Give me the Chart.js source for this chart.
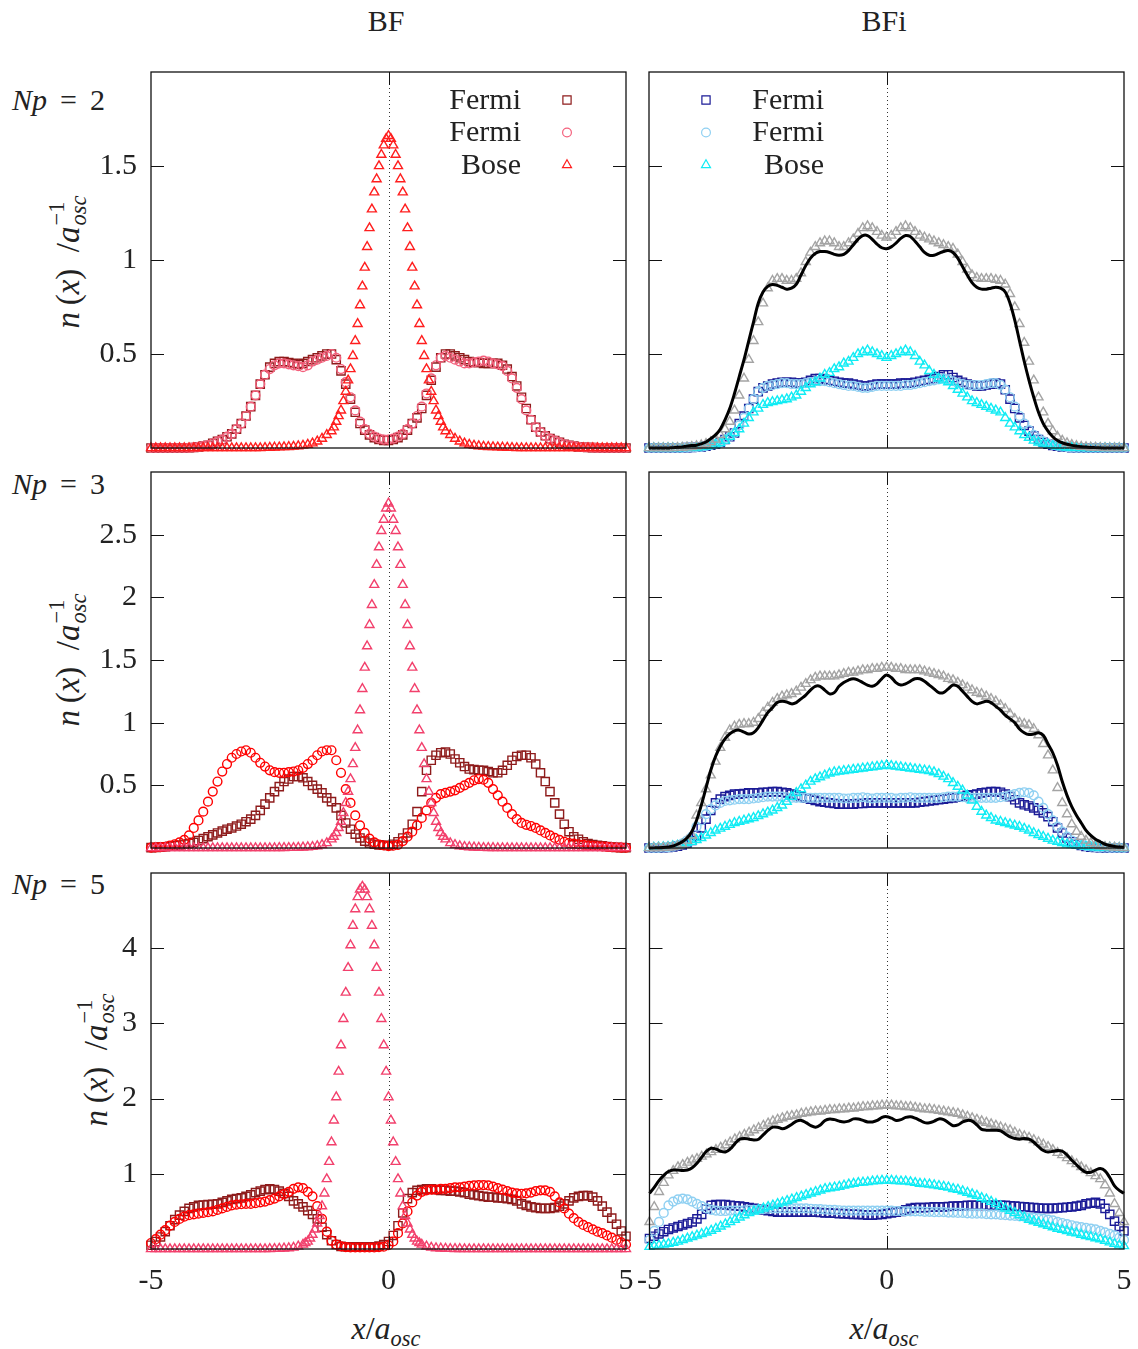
<!DOCTYPE html>
<html>
<head>
<meta charset="utf-8">
<script src="https://cdn.jsdelivr.net/npm/chart.js@4.4.1/dist/chart.umd.min.js"></script>
<style>
  body { margin: 0; background: #fff; width: 1138px; height: 1349px; position: relative; overflow: hidden;
         font-family: "Liberation Serif", serif; color: #222; }
  canvas { position: absolute; }
  .lab { position: absolute; font-size: 30px; white-space: nowrap; line-height: 1; transform: translate(-50%, -50%); }
  .np { position: absolute; left: 12px; font-size: 30px; white-space: nowrap; line-height: 1; transform: translateY(-50%); }
  .np .eq { margin: 0 13px; }
  .ylab { position: absolute; font-size: 33px; white-space: nowrap; line-height: 1; transform: translate(-50%, -50%) rotate(-90deg); }
  .ss { display: inline-block; vertical-align: -0.3em; font-size: 0.68em; line-height: 1; margin-left: 1px; }
  .ss span { display: block; }
  .xl { font-size: 32px; }
  sub { font-size: 0.7em; vertical-align: -0.3em; }
</style>
</head>
<body>

<div class="lab" style="left:386px;top:21px">BF</div>
<div class="lab" style="left:884px;top:21px">BFi</div>

<div class="np" style="top:100px"><i>Np</i><span class="eq">=</span>2</div>
<div class="np" style="top:484px"><i>Np</i><span class="eq">=</span>3</div>
<div class="np" style="top:884px"><i>Np</i><span class="eq">=</span>5</div>

<div class="ylab" style="left:68px;top:262px"><i>n</i>&#8201;(<i>x</i>)&#8194;/<i>a</i><span class="ss"><span>&minus;1</span><span><i>osc</i></span></span></div>
<div class="ylab" style="left:68px;top:660px"><i>n</i>&#8201;(<i>x</i>)&#8194;/<i>a</i><span class="ss"><span>&minus;1</span><span><i>osc</i></span></span></div>
<div class="ylab" style="left:96px;top:1060px"><i>n</i>&#8201;(<i>x</i>)&#8194;/<i>a</i><span class="ss"><span>&minus;1</span><span><i>osc</i></span></span></div>

<div class="lab xl" style="left:386px;top:1331px"><i>x</i>/<i>a</i><sub><i>osc</i></sub></div>
<div class="lab xl" style="left:884px;top:1331px"><i>x</i>/<i>a</i><sub><i>osc</i></sub></div>

<canvas id="p1" width="577" height="440" style="left:71px;top:40px"></canvas>
<canvas id="p2" width="523" height="440" style="left:623px;top:40px"></canvas>
<canvas id="p3" width="577" height="440" style="left:71px;top:440px"></canvas>
<canvas id="p4" width="523" height="440" style="left:623px;top:440px"></canvas>
<canvas id="p5" width="577" height="458" style="left:71px;top:841px"></canvas>
<canvas id="p6" width="523" height="458" style="left:623px;top:841px"></canvas>

<script>
'use strict';

// all series are sampled on x = -5 ... 5, step 0.1 (101 values)
// the narrow Bose peaks of the BF column also carry the half-step points (…Mid)

// ---- Np = 2 ----
var bf2FermiSq = [
  0,0,0,0,0,0,0,0,0.001,0.003,
  0.006,0.01,0.015,0.025,0.035,0.045,0.06,0.075,0.10,0.13,
  0.17,0.22,0.28,0.34,0.39,0.43,0.45,0.46,0.46,0.455,
  0.45,0.445,0.45,0.46,0.47,0.48,0.49,0.50,0.50,0.47,
  0.41,0.34,0.26,0.19,0.13,0.095,0.07,0.055,0.045,0.04,
  0.04,0.045,0.055,0.07,0.095,0.13,0.16,0.21,0.28,0.36,
  0.43,0.48,0.50,0.50,0.49,0.48,0.47,0.46,0.455,0.455,
  0.45,0.45,0.45,0.45,0.44,0.42,0.38,0.33,0.27,0.21,
  0.15,0.11,0.085,0.065,0.05,0.04,0.03,0.02,0.014,0.01,
  0.006,0.004,0.003,0.002,0.001,0,0,0,0,0,
  0];
var bf2FermiCi = [
  0,0,0,0,0,0,0,0,0.001,0.003,
  0.006,0.01,0.015,0.025,0.035,0.045,0.06,0.075,0.10,0.13,
  0.17,0.22,0.28,0.34,0.39,0.42,0.44,0.45,0.45,0.445,
  0.44,0.435,0.43,0.44,0.46,0.47,0.48,0.49,0.50,0.48,
  0.42,0.35,0.27,0.20,0.14,0.10,0.075,0.06,0.05,0.045,
  0.045,0.05,0.06,0.075,0.10,0.13,0.17,0.22,0.29,0.37,
  0.44,0.48,0.49,0.48,0.47,0.46,0.45,0.45,0.455,0.46,
  0.465,0.46,0.45,0.445,0.435,0.41,0.37,0.32,0.26,0.20,
  0.15,0.11,0.085,0.065,0.05,0.04,0.03,0.02,0.014,0.01,
  0.006,0.004,0.003,0.002,0.001,0,0,0,0,0,
  0];
var bf2Bose = [
  0,0,0,0,0,0,0,0,0,0,
  0,0,0,0,0,0,0,0,0,0,
  0,0,0,0,0.001,0.002,0.003,0.004,0.005,0.006,
  0.008,0.01,0.013,0.018,0.025,0.035,0.05,0.07,0.09,0.14,
  0.20,0.30,0.42,0.57,0.76,0.96,1.17,1.36,1.50,1.61,
  1.66,1.61,1.50,1.36,1.17,0.96,0.76,0.57,0.42,0.30,
  0.20,0.14,0.09,0.07,0.05,0.035,0.025,0.018,0.013,0.01,
  0.008,0.006,0.005,0.004,0.003,0.002,0.001,0,0,0,
  0,0,0,0,0,0,0,0,0,0,
  0,0,0,0,0,0,0,0,0,0,
  0];
var bf2BoseMidStart = -1.15;
var bf2BoseMid = [0.11,0.17,0.25,0.36,0.49,0.66,0.86,1.07,1.27,1.43,1.56,1.645,
                  1.645,1.56,1.43,1.27,1.07,0.86,0.66,0.49,0.36,0.25,0.17,0.11];

var bfi2FermiSq = [
  0,0,0,0,0,0,0,0.001,0.002,0.003,
  0.004,0.006,0.01,0.015,0.022,0.03,0.045,0.06,0.08,0.13,
  0.17,0.21,0.26,0.30,0.32,0.33,0.34,0.345,0.35,0.35,
  0.35,0.345,0.345,0.35,0.36,0.37,0.37,0.365,0.36,0.355,
  0.35,0.345,0.345,0.34,0.335,0.33,0.33,0.335,0.34,0.34,
  0.34,0.34,0.34,0.345,0.345,0.345,0.35,0.355,0.36,0.365,
  0.37,0.38,0.39,0.39,0.375,0.36,0.35,0.34,0.335,0.33,
  0.33,0.335,0.34,0.345,0.34,0.31,0.26,0.21,0.16,0.12,
  0.09,0.065,0.045,0.03,0.02,0.014,0.01,0.006,0.004,0.002,
  0.001,0,0,0,0,0,0,0,0,0,
  0];
var bfi2FermiCi = [
  0,0,0,0,0,0,0,0.001,0.002,0.003,
  0.004,0.006,0.01,0.015,0.022,0.03,0.045,0.06,0.08,0.12,
  0.16,0.21,0.26,0.30,0.32,0.33,0.335,0.34,0.345,0.345,
  0.34,0.34,0.34,0.345,0.35,0.355,0.355,0.355,0.35,0.345,
  0.34,0.335,0.33,0.33,0.325,0.32,0.32,0.325,0.33,0.33,
  0.33,0.33,0.33,0.33,0.335,0.335,0.34,0.345,0.35,0.355,
  0.36,0.365,0.37,0.365,0.355,0.345,0.34,0.335,0.335,0.335,
  0.335,0.34,0.345,0.345,0.335,0.31,0.27,0.22,0.17,0.13,
  0.095,0.07,0.05,0.035,0.024,0.016,0.011,0.007,0.004,0.002,
  0.001,0,0,0,0,0,0,0,0,0,
  0];
var bfi2Bose = [
  0,0,0,0,0,0,0,0,0.001,0.002,
  0.003,0.005,0.008,0.012,0.018,0.027,0.04,0.06,0.08,0.10,
  0.13,0.16,0.19,0.21,0.23,0.24,0.245,0.25,0.255,0.26,
  0.27,0.28,0.30,0.32,0.34,0.35,0.37,0.39,0.40,0.42,
  0.43,0.45,0.46,0.48,0.50,0.51,0.52,0.51,0.50,0.49,
  0.48,0.49,0.50,0.51,0.52,0.51,0.49,0.46,0.44,0.41,
  0.39,0.37,0.36,0.35,0.33,0.31,0.29,0.27,0.25,0.24,
  0.23,0.22,0.21,0.20,0.19,0.16,0.13,0.11,0.09,0.07,
  0.055,0.04,0.03,0.024,0.018,0.012,0.008,0.005,0.003,0.002,
  0.001,0,0,0,0,0,0,0,0,0,
  0];
var bfi2TotalPts = [
  0,0,0,0,0,0,0.001,0.002,0.004,0.006,
  0.01,0.015,0.022,0.032,0.045,0.07,0.10,0.14,0.20,0.28,
  0.37,0.47,0.57,0.67,0.77,0.85,0.89,0.90,0.90,0.89,
  0.89,0.90,0.93,0.99,1.04,1.07,1.09,1.10,1.10,1.09,
  1.07,1.07,1.09,1.11,1.14,1.17,1.18,1.17,1.15,1.13,
  1.12,1.13,1.15,1.17,1.18,1.17,1.15,1.13,1.12,1.11,
  1.10,1.09,1.08,1.07,1.06,1.03,0.99,0.95,0.92,0.905,
  0.90,0.90,0.90,0.895,0.89,0.87,0.82,0.75,0.66,0.56,
  0.46,0.36,0.27,0.19,0.13,0.09,0.06,0.04,0.026,0.017,
  0.011,0.007,0.005,0.003,0.002,0.001,0,0,0,0,
  0];
var bfi2TotalLine = [
  0,0,0,0,0,0.002,0.004,0.006,0.01,0.013,
  0.015,0.022,0.032,0.05,0.07,0.10,0.15,0.21,0.29,0.38,
  0.47,0.57,0.67,0.77,0.83,0.86,0.87,0.865,0.855,0.845,
  0.85,0.87,0.92,0.97,1.01,1.035,1.045,1.045,1.04,1.03,
  1.025,1.03,1.05,1.08,1.11,1.13,1.13,1.11,1.085,1.065,
  1.06,1.07,1.09,1.115,1.13,1.125,1.10,1.07,1.04,1.025,
  1.025,1.035,1.045,1.05,1.04,1.01,0.965,0.92,0.88,0.855,
  0.845,0.845,0.85,0.855,0.85,0.83,0.77,0.68,0.57,0.46,
  0.36,0.27,0.19,0.13,0.09,0.06,0.04,0.028,0.02,0.014,
  0.01,0.007,0.005,0.003,0.002,0.001,0,0,0,0,
  0];

// ---- Np = 3 ----
var bf3FermiSq = [
  0.003,0.005,0.007,0.01,0.014,0.018,0.024,0.03,0.036,0.045,
  0.06,0.075,0.09,0.105,0.12,0.135,0.15,0.16,0.175,0.19,
  0.21,0.23,0.26,0.30,0.35,0.40,0.45,0.49,0.53,0.55,
  0.57,0.57,0.56,0.53,0.50,0.47,0.44,0.40,0.37,0.32,
  0.26,0.20,0.15,0.11,0.08,0.055,0.04,0.03,0.025,0.022,
  0.02,0.03,0.05,0.08,0.12,0.19,0.29,0.45,0.62,0.70,
  0.74,0.76,0.765,0.75,0.71,0.68,0.65,0.63,0.625,0.62,
  0.62,0.61,0.60,0.60,0.62,0.66,0.70,0.73,0.74,0.74,
  0.72,0.67,0.60,0.53,0.45,0.36,0.27,0.19,0.13,0.09,
  0.07,0.05,0.035,0.028,0.022,0.017,0.012,0.008,0.005,0.003,
  0.002];
var bf3FermiCi = [
  0.003,0.005,0.007,0.01,0.02,0.03,0.045,0.065,0.10,0.16,
  0.22,0.29,0.37,0.45,0.53,0.61,0.67,0.72,0.75,0.77,
  0.78,0.76,0.72,0.68,0.65,0.62,0.605,0.60,0.60,0.605,
  0.61,0.62,0.64,0.67,0.70,0.74,0.77,0.78,0.78,0.70,
  0.60,0.47,0.36,0.26,0.18,0.12,0.075,0.045,0.028,0.02,
  0.015,0.018,0.025,0.055,0.09,0.13,0.18,0.24,0.30,0.36,
  0.40,0.43,0.44,0.45,0.46,0.48,0.50,0.52,0.54,0.55,
  0.545,0.52,0.47,0.42,0.37,0.32,0.27,0.23,0.20,0.185,
  0.175,0.16,0.14,0.12,0.10,0.08,0.065,0.05,0.04,0.035,
  0.03,0.025,0.02,0.017,0.014,0.012,0.009,0.006,0.004,0.003,
  0.002];
var bf3Bose = [
  0,0,0,0,0,0,0,0,0,0,
  0,0,0,0,0,0,0,0,0,0,
  0,0,0,0,0,0,0,0.001,0.001,0.002,
  0.002,0.003,0.005,0.007,0.01,0.015,0.025,0.04,0.07,0.12,
  0.21,0.36,0.55,0.80,1.10,1.44,1.78,2.10,2.40,2.62,
  2.75,2.62,2.40,2.10,1.78,1.44,1.10,0.80,0.55,0.36,
  0.21,0.12,0.07,0.04,0.025,0.015,0.01,0.007,0.005,0.003,
  0.002,0.001,0.001,0,0,0,0,0,0,0,
  0,0,0,0,0,0,0,0,0,0,
  0,0,0,0,0,0,0,0,0,0,
  0];
var bf3BoseMidStart = -1.15;
var bf3BoseMid = [0.09,0.16,0.28,0.45,0.67,0.94,1.27,1.61,1.94,2.26,2.53,2.71,
                  2.71,2.53,2.26,1.94,1.61,1.27,0.94,0.67,0.45,0.28,0.16,0.09];

var bfi3FermiSq = [
  0,0,0.001,0.002,0.004,0.008,0.015,0.025,0.04,0.06,
  0.10,0.16,0.23,0.30,0.36,0.39,0.41,0.42,0.43,0.43,
  0.435,0.44,0.44,0.44,0.445,0.445,0.45,0.45,0.445,0.44,
  0.43,0.42,0.41,0.40,0.39,0.38,0.37,0.365,0.36,0.355,
  0.35,0.35,0.35,0.35,0.355,0.355,0.36,0.36,0.36,0.36,
  0.36,0.36,0.36,0.36,0.36,0.36,0.36,0.365,0.37,0.375,
  0.38,0.385,0.39,0.395,0.40,0.405,0.41,0.42,0.425,0.43,
  0.44,0.445,0.45,0.45,0.445,0.43,0.41,0.385,0.36,0.345,
  0.335,0.32,0.30,0.28,0.25,0.21,0.16,0.12,0.08,0.05,
  0.03,0.02,0.012,0.007,0.004,0.002,0.001,0,0,0,
  0];
var bfi3FermiCi = [
  0,0,0.001,0.002,0.005,0.01,0.02,0.035,0.06,0.09,
  0.17,0.22,0.27,0.31,0.34,0.36,0.375,0.38,0.385,0.39,
  0.39,0.39,0.395,0.40,0.405,0.41,0.41,0.41,0.41,0.405,
  0.40,0.40,0.40,0.40,0.40,0.40,0.40,0.40,0.40,0.40,
  0.40,0.395,0.395,0.40,0.40,0.405,0.40,0.395,0.40,0.40,
  0.40,0.40,0.395,0.40,0.40,0.405,0.40,0.40,0.40,0.40,
  0.40,0.40,0.405,0.41,0.41,0.41,0.405,0.40,0.40,0.40,
  0.40,0.40,0.40,0.40,0.405,0.41,0.42,0.43,0.44,0.445,
  0.44,0.42,0.37,0.32,0.27,0.22,0.17,0.13,0.09,0.06,
  0.04,0.025,0.015,0.01,0.006,0.003,0.002,0.001,0,0,
  0];
var bfi3Bose = [
  0.002,0.003,0.005,0.007,0.01,0.015,0.02,0.03,0.04,0.05,
  0.065,0.08,0.10,0.12,0.14,0.155,0.17,0.185,0.20,0.21,
  0.22,0.23,0.24,0.255,0.27,0.285,0.30,0.32,0.34,0.37,
  0.41,0.44,0.47,0.50,0.53,0.55,0.565,0.58,0.595,0.605,
  0.61,0.615,0.62,0.625,0.63,0.635,0.64,0.645,0.65,0.655,
  0.66,0.655,0.65,0.645,0.64,0.635,0.63,0.625,0.62,0.615,
  0.605,0.59,0.57,0.55,0.52,0.49,0.46,0.42,0.38,0.33,
  0.29,0.26,0.24,0.22,0.21,0.20,0.19,0.18,0.17,0.155,
  0.14,0.12,0.105,0.09,0.075,0.06,0.05,0.04,0.03,0.025,
  0.02,0.016,0.012,0.009,0.007,0.005,0.004,0.003,0.002,0.001,
  0.001];
var bfi3TotalPts = [
  0,0,0.001,0.002,0.004,0.008,0.015,0.03,0.06,0.10,
  0.26,0.36,0.47,0.58,0.69,0.80,0.88,0.94,0.97,0.985,
  0.99,0.99,1.00,1.03,1.08,1.12,1.16,1.19,1.21,1.22,
  1.23,1.25,1.28,1.31,1.34,1.36,1.37,1.37,1.37,1.37,
  1.38,1.39,1.40,1.40,1.41,1.42,1.42,1.43,1.43,1.44,
  1.44,1.44,1.43,1.43,1.42,1.42,1.42,1.42,1.41,1.40,
  1.39,1.38,1.37,1.35,1.34,1.32,1.30,1.28,1.26,1.24,
  1.23,1.21,1.19,1.17,1.14,1.11,1.07,1.03,1.00,0.99,
  0.98,0.95,0.90,0.83,0.74,0.62,0.48,0.36,0.27,0.19,
  0.13,0.09,0.06,0.04,0.025,0.015,0.01,0.006,0.004,0.002,
  0.001];
var bfi3TotalLine = [
  0,0.001,0.002,0.004,0.008,0.015,0.03,0.05,0.08,0.13,
  0.22,0.34,0.48,0.62,0.73,0.81,0.87,0.91,0.935,0.94,
  0.925,0.91,0.92,0.96,1.02,1.08,1.12,1.16,1.17,1.165,
  1.15,1.16,1.19,1.22,1.26,1.29,1.29,1.26,1.23,1.24,
  1.29,1.32,1.34,1.35,1.34,1.32,1.30,1.29,1.31,1.35,
  1.38,1.36,1.32,1.30,1.31,1.33,1.35,1.35,1.33,1.30,
  1.27,1.24,1.24,1.27,1.30,1.29,1.25,1.21,1.17,1.15,
  1.16,1.17,1.16,1.13,1.10,1.06,1.03,1.00,0.95,0.92,
  0.905,0.91,0.92,0.90,0.83,0.76,0.66,0.53,0.42,0.33,
  0.26,0.20,0.14,0.10,0.07,0.05,0.03,0.02,0.012,0.008,
  0.005];

// ---- Np = 5 ----
var bf5FermiSq = [
  0.05,0.10,0.16,0.23,0.31,0.39,0.45,0.50,0.54,0.56,
  0.58,0.585,0.59,0.595,0.60,0.62,0.64,0.66,0.67,0.68,
  0.70,0.72,0.75,0.77,0.79,0.80,0.79,0.77,0.74,0.70,
  0.64,0.60,0.56,0.51,0.46,0.40,0.29,0.19,0.11,0.06,
  0.035,0.03,0.03,0.03,0.03,0.03,0.03,0.03,0.04,0.06,
  0.10,0.18,0.31,0.48,0.67,0.75,0.78,0.79,0.80,0.80,
  0.79,0.78,0.78,0.77,0.77,0.76,0.75,0.73,0.72,0.71,
  0.70,0.69,0.69,0.68,0.68,0.67,0.66,0.64,0.60,0.58,
  0.56,0.55,0.54,0.54,0.54,0.55,0.57,0.60,0.64,0.68,
  0.70,0.71,0.71,0.69,0.64,0.57,0.49,0.41,0.33,0.24,
  0.17];
var bf5FermiCi = [
  0.08,0.13,0.19,0.25,0.31,0.36,0.40,0.43,0.45,0.46,
  0.47,0.48,0.49,0.50,0.52,0.54,0.56,0.58,0.59,0.595,
  0.60,0.60,0.61,0.62,0.63,0.65,0.67,0.70,0.73,0.76,
  0.80,0.82,0.81,0.76,0.70,0.57,0.40,0.23,0.11,0.06,
  0.035,0.025,0.02,0.02,0.02,0.02,0.02,0.02,0.025,0.03,
  0.05,0.10,0.21,0.34,0.50,0.62,0.71,0.76,0.78,0.79,
  0.79,0.80,0.80,0.81,0.82,0.82,0.83,0.84,0.845,0.85,
  0.85,0.845,0.83,0.81,0.79,0.77,0.75,0.74,0.735,0.74,
  0.75,0.77,0.78,0.78,0.76,0.70,0.62,0.54,0.47,0.41,
  0.36,0.32,0.29,0.26,0.23,0.21,0.18,0.15,0.12,0.09,
  0.06];
var bf5Bose = [
  0,0,0,0,0,0,0,0,0,0,
  0,0,0,0,0,0,0,0,0,0,
  0,0,0,0,0,0.002,0.003,0.005,0.008,0.012,
  0.02,0.035,0.06,0.10,0.19,0.34,0.57,0.93,1.42,2.02,
  2.71,3.41,4.04,4.52,4.78,4.78,4.52,4.04,3.41,2.71,
  2.02,1.42,0.93,0.57,0.34,0.19,0.10,0.06,0.035,0.02,
  0.012,0.008,0.005,0.003,0.002,0.001,0,0,0,0,
  0,0,0,0,0,0,0,0,0,0,
  0,0,0,0,0,0,0,0,0,0,
  0,0,0,0,0,0,0,0,0,0,
  0];
var bf5BoseMidStart = -1.75;
var bf5BoseMid = [0.08,0.14,0.26,0.44,0.74,1.16,1.71,2.36,3.06,3.74,4.30,4.68,4.82,
                  4.68,4.30,3.74,3.06,2.36,1.71,1.16,0.74,0.44,0.26,0.14,0.08];

var bfi5FermiSq = [
  0.14,0.17,0.20,0.23,0.26,0.28,0.30,0.32,0.34,0.36,
  0.40,0.46,0.53,0.58,0.59,0.59,0.59,0.58,0.575,0.57,
  0.56,0.55,0.54,0.53,0.52,0.51,0.50,0.49,0.49,0.49,
  0.49,0.49,0.49,0.49,0.49,0.49,0.485,0.48,0.48,0.475,
  0.47,0.47,0.465,0.46,0.46,0.455,0.45,0.45,0.455,0.46,
  0.47,0.48,0.49,0.50,0.52,0.54,0.55,0.55,0.55,0.555,
  0.56,0.56,0.56,0.565,0.57,0.57,0.575,0.58,0.58,0.58,
  0.58,0.58,0.58,0.58,0.58,0.58,0.575,0.57,0.565,0.56,
  0.555,0.55,0.545,0.54,0.54,0.54,0.545,0.55,0.555,0.56,
  0.57,0.58,0.60,0.61,0.62,0.60,0.54,0.46,0.37,0.30,
  0.24];
var bfi5FermiCi = [
  0.12,0.24,0.36,0.48,0.58,0.63,0.66,0.67,0.66,0.63,
  0.60,0.57,0.54,0.52,0.51,0.505,0.505,0.51,0.51,0.51,
  0.515,0.52,0.52,0.525,0.53,0.535,0.54,0.54,0.54,0.54,
  0.54,0.54,0.54,0.54,0.535,0.53,0.53,0.525,0.52,0.52,
  0.515,0.51,0.51,0.51,0.51,0.51,0.51,0.51,0.51,0.51,
  0.51,0.51,0.505,0.505,0.50,0.50,0.50,0.50,0.495,0.495,
  0.49,0.49,0.49,0.485,0.485,0.48,0.48,0.475,0.47,0.47,
  0.47,0.465,0.46,0.46,0.455,0.45,0.445,0.44,0.435,0.43,
  0.42,0.415,0.41,0.40,0.39,0.38,0.36,0.345,0.33,0.315,
  0.30,0.29,0.28,0.27,0.26,0.24,0.22,0.20,0.18,0.15,
  0.12];
var bfi5Bose = [
  0.03,0.04,0.05,0.06,0.07,0.085,0.10,0.12,0.14,0.16,
  0.18,0.20,0.22,0.245,0.27,0.30,0.33,0.36,0.39,0.42,
  0.45,0.48,0.50,0.52,0.54,0.56,0.58,0.60,0.62,0.64,
  0.66,0.68,0.70,0.72,0.74,0.76,0.78,0.80,0.81,0.82,
  0.83,0.845,0.86,0.87,0.88,0.885,0.89,0.90,0.905,0.91,
  0.91,0.91,0.905,0.90,0.90,0.89,0.88,0.87,0.865,0.86,
  0.85,0.84,0.83,0.82,0.80,0.79,0.77,0.75,0.73,0.71,
  0.68,0.66,0.63,0.60,0.57,0.54,0.51,0.48,0.45,0.42,
  0.39,0.37,0.35,0.33,0.31,0.29,0.27,0.255,0.24,0.22,
  0.21,0.19,0.175,0.16,0.145,0.13,0.11,0.09,0.07,0.05,
  0.04];
var bfi5TotalPts = [
  0.36,0.56,0.76,0.88,0.98,1.04,1.09,1.12,1.15,1.18,
  1.20,1.23,1.26,1.29,1.32,1.35,1.38,1.42,1.46,1.49,
  1.52,1.55,1.58,1.61,1.64,1.67,1.70,1.72,1.74,1.76,
  1.77,1.78,1.80,1.81,1.82,1.83,1.83,1.84,1.85,1.85,
  1.86,1.86,1.87,1.87,1.88,1.89,1.89,1.90,1.90,1.91,
  1.91,1.91,1.90,1.90,1.89,1.89,1.88,1.87,1.86,1.86,
  1.85,1.84,1.83,1.82,1.81,1.80,1.78,1.76,1.74,1.72,
  1.70,1.68,1.66,1.64,1.62,1.60,1.58,1.55,1.52,1.50,
  1.48,1.45,1.42,1.39,1.36,1.32,1.28,1.25,1.21,1.17,
  1.13,1.09,1.05,1.01,0.97,0.93,0.85,0.74,0.60,0.48,
  0.36];
var bfi5TotalLine = [
  0.74,0.82,0.91,0.98,1.03,1.05,1.05,1.045,1.05,1.08,
  1.14,1.22,1.30,1.34,1.33,1.30,1.29,1.33,1.40,1.46,
  1.47,1.46,1.45,1.46,1.52,1.58,1.62,1.62,1.60,1.62,
  1.66,1.70,1.71,1.68,1.64,1.62,1.65,1.71,1.73,1.72,
  1.70,1.69,1.70,1.73,1.73,1.71,1.69,1.69,1.71,1.75,
  1.76,1.74,1.71,1.72,1.75,1.76,1.74,1.71,1.68,1.68,
  1.70,1.73,1.72,1.68,1.64,1.65,1.69,1.71,1.70,1.65,
  1.59,1.58,1.58,1.58,1.57,1.53,1.49,1.47,1.46,1.47,
  1.46,1.42,1.36,1.31,1.29,1.30,1.31,1.30,1.25,1.18,
  1.12,1.06,1.02,1.02,1.05,1.07,1.04,0.95,0.84,0.78,
  0.74];

// y tick labels per row
var row1Ticks = [0.5, 1, 1.5];
var row2Ticks = [0.5, 1, 1.5, 2, 2.5];
var row3Ticks = [1, 2, 3, 4];

var legendLabels = ['Fermi', 'Fermi', 'Bose'];

var FONT = '"Liberation Serif", serif';
var RADIUS = { rect: 5.8, circle: 4.4, triangle: 5.2 };

function pts(ys, x0) {
  var out = [];
  for (var i = 0; i < ys.length; i++) {
    out.push({ x: Math.round((x0 + i * 0.1) * 100) / 100, y: ys[i] });
  }
  return out;
}

function markers(data, style, color, order) {
  return {
    data: data, showLine: false, order: order, clip: 8,
    pointStyle: style, pointRadius: RADIUS[style], pointBorderWidth: 1.4,
    borderColor: color, pointBorderColor: color,
    backgroundColor: 'rgba(0,0,0,0)', pointBackgroundColor: 'rgba(0,0,0,0)'
  };
}

function curve(data, color, order) {
  return {
    data: data, showLine: true, order: order, clip: 8, pointRadius: 0,
    borderColor: color, borderWidth: 3, tension: 0.35, fill: false
  };
}

// frame, inside ticks, dotted x = 0 line and the small legends
var panelDeco = {
  id: 'panelDeco',
  beforeDatasetsDraw: function (chart) {
    var a = chart.chartArea, ctx = chart.ctx;
    var px = Math.round(chart.scales.x.getPixelForValue(0)) + 0.5;
    ctx.save();
    ctx.strokeStyle = '#333';
    ctx.lineWidth = 1;
    ctx.setLineDash([1, 3]);
    ctx.beginPath();
    ctx.moveTo(px, a.top);
    ctx.lineTo(px, a.bottom);
    ctx.stroke();
    ctx.restore();
  },
  afterDraw: function (chart, args, opts) {
    var a = chart.chartArea, ctx = chart.ctx;
    var ys = chart.scales.y, xs = chart.scales.x;
    ctx.save();
    ctx.strokeStyle = '#111';
    ctx.lineWidth = 1;
    ctx.beginPath();
    opts.yTicks.forEach(function (v) {
      var py = Math.round(ys.getPixelForValue(v)) + 0.5;
      ctx.moveTo(a.left, py); ctx.lineTo(a.left + 13, py);
      ctx.moveTo(a.right, py); ctx.lineTo(a.right - 13, py);
    });
    var px = Math.round(xs.getPixelForValue(0)) + 0.5;
    ctx.moveTo(px, a.top); ctx.lineTo(px, a.top + 13);
    ctx.moveTo(px, a.bottom); ctx.lineTo(px, a.bottom - 13);
    ctx.stroke();
    ctx.lineWidth = 1.3;
    ctx.strokeRect(a.left, a.top, a.right - a.left, a.bottom - a.top);

    var lg = opts.legend;
    if (lg) {
      ctx.font = '30px ' + FONT;
      ctx.textAlign = 'right';
      ctx.textBaseline = 'middle';
      for (var i = 0; i < legendLabels.length; i++) {
        var y = a.top + lg.top + i * 32.5;
        var ds = chart.data.datasets[i];
        ctx.fillStyle = '#222';
        ctx.fillText(legendLabels[i], a.left + lg.textRight, y + 1);
        ctx.strokeStyle = ds.borderColor;
        ctx.fillStyle = 'rgba(0,0,0,0)';
        ctx.lineWidth = 1.2;
        Chart.helpers.drawPoint(ctx, {
          pointStyle: ds.pointStyle, radius: ds.pointRadius, borderWidth: 1.2, rotation: 0
        }, a.left + lg.marker, y);
      }
    }
    ctx.restore();
  }
};

function panel(id, datasets, cfg) {
  new Chart(document.getElementById(id), {
    type: 'scatter',
    data: { datasets: datasets },
    options: {
      responsive: false,
      animation: false,
      events: [],
      layout: { padding: cfg.padding },
      plugins: {
        legend: { display: false },
        tooltip: { enabled: false },
        panelDeco: { yTicks: cfg.yTicks, legend: cfg.legend || null }
      },
      scales: {
        x: {
          type: 'linear', min: -5, max: 5, display: cfg.bottom,
          grid: { display: false, drawTicks: false }, border: { display: false },
          ticks: { stepSize: 5, padding: 14, color: '#222', font: { family: FONT, size: 30 } },
          afterFit: function (s) { if (cfg.bottom) s.height = 40; }
        },
        y: {
          type: 'linear', min: 0, max: cfg.yMax, display: cfg.left,
          grid: { display: false, drawTicks: false }, border: { display: false },
          ticks: {
            stepSize: cfg.yStep, padding: 14, color: '#222', font: { family: FONT, size: 30 },
            callback: function (v) {
              for (var i = 0; i < cfg.yTicks.length; i++) {
                if (Math.abs(cfg.yTicks[i] - v) < 1e-6) return String(cfg.yTicks[i]);
              }
              return '';
            }
          },
          afterFit: function (s) { if (cfg.left) s.width = 70; }
        }
      }
    },
    plugins: [panelDeco]
  });
}

// canvas sizes are chosen so that every plot frame lands on the reference frame
var padL = { left: 10, right: 22, top: 32, bottom: 32 };
var padR = { left: 26, right: 22, top: 32, bottom: 32 };
var padLB = { left: 10, right: 22, top: 32, bottom: 10 };
var padRB = { left: 26, right: 22, top: 32, bottom: 10 };

var DKRED = '#8e1b1b', PINK = '#f4607c', RED = '#ff1e1e', ROSE = '#f2406c', PURE = '#ff0000';
var NAVY = '#1a1a96', SKY = '#8fd0f2', CYAN = '#10ecf4', GREY = '#a4a4a4';

panel('p1', [
  markers(pts(bf2FermiSq, -5), 'rect', DKRED, 3),
  markers(pts(bf2FermiCi, -5), 'circle', PINK, 2),
  markers(pts(bf2Bose, -5).concat(pts(bf2BoseMid, bf2BoseMidStart)), 'triangle', RED, 1)
], { left: true, bottom: false, padding: padL, yMax: 2, yStep: 0.5, yTicks: row1Ticks,
     legend: { textRight: 370, marker: 416, top: 28 } });

panel('p2', [
  markers(pts(bfi2FermiSq, -5), 'rect', NAVY, 5),
  markers(pts(bfi2FermiCi, -5), 'circle', SKY, 4),
  markers(pts(bfi2Bose, -5), 'triangle', CYAN, 3),
  markers(pts(bfi2TotalPts, -5), 'triangle', GREY, 2),
  curve(pts(bfi2TotalLine, -5), '#000', 1)
], { left: false, bottom: false, padding: padR, yMax: 2, yStep: 0.5, yTicks: row1Ticks,
     legend: { textRight: 175, marker: 57, top: 28 } });

panel('p3', [
  markers(pts(bf3FermiSq, -5), 'rect', DKRED, 3),
  markers(pts(bf3FermiCi, -5), 'circle', PURE, 2),
  markers(pts(bf3Bose, -5).concat(pts(bf3BoseMid, bf3BoseMidStart)), 'triangle', ROSE, 1)
], { left: true, bottom: false, padding: padL, yMax: 3, yStep: 0.5, yTicks: row2Ticks });

panel('p4', [
  markers(pts(bfi3FermiSq, -5), 'rect', NAVY, 5),
  markers(pts(bfi3FermiCi, -5), 'circle', SKY, 4),
  markers(pts(bfi3Bose, -5), 'triangle', CYAN, 3),
  markers(pts(bfi3TotalPts, -5), 'triangle', GREY, 2),
  curve(pts(bfi3TotalLine, -5), '#000', 1)
], { left: false, bottom: false, padding: padR, yMax: 3, yStep: 0.5, yTicks: row2Ticks });

panel('p5', [
  markers(pts(bf5FermiSq, -5), 'rect', DKRED, 3),
  markers(pts(bf5FermiCi, -5), 'circle', PURE, 2),
  markers(pts(bf5Bose, -5).concat(pts(bf5BoseMid, bf5BoseMidStart)), 'triangle', ROSE, 1)
], { left: true, bottom: true, padding: padLB, yMax: 5, yStep: 1, yTicks: row3Ticks });

panel('p6', [
  markers(pts(bfi5FermiSq, -5), 'rect', NAVY, 5),
  markers(pts(bfi5FermiCi, -5), 'circle', SKY, 4),
  markers(pts(bfi5Bose, -5), 'triangle', CYAN, 3),
  markers(pts(bfi5TotalPts, -5), 'triangle', GREY, 2),
  curve(pts(bfi5TotalLine, -5), '#000', 1)
], { left: false, bottom: true, padding: padRB, yMax: 5, yStep: 1, yTicks: row3Ticks });
</script>
</body>
</html>
